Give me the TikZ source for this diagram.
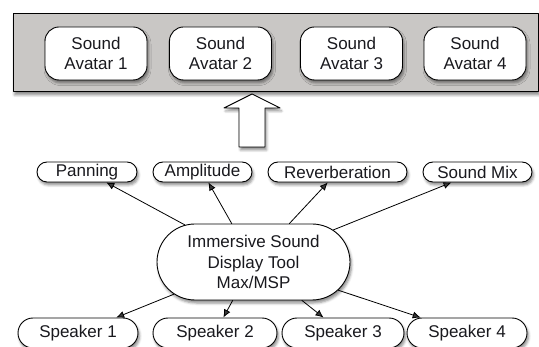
\documentclass[tikz,border=0pt]{standalone}
\usepackage{fontspec}
\setmainfont{Liberation Sans}
\usetikzlibrary{arrows.meta,shapes.misc,shadows.blur}
\definecolor{framegray}{RGB}{201,199,197}
\definecolor{inkgray}{RGB}{25,25,30}
\begin{document}
\begin{tikzpicture}[x=1pt,y=-1pt,font=\fontsize{17}{20.5}\selectfont,text=inkgray,line cap=round,line join=round,>={Latex[length=8pt,width=7pt]},
    softshadow/.style={blur shadow={shadow xshift=1.5pt,shadow yshift=-3pt,shadow blur radius=2.5pt,shadow opacity=45}},
    box/.style={draw,line width=.9pt,fill=white,inner sep=0pt,align=center,softshadow},
    avatar/.style={box,rounded corners=14pt,minimum width=102pt,minimum height=53pt},
    pill/.style={box,shape=rounded rectangle}]
	\useasboundingbox (0,0) rectangle (539,347);
	% avatar panel
	\node[draw,line width=1pt,fill=framegray,softshadow,minimum width=525pt,minimum height=78pt] (panel) at (275.5,53) {};
	\node[avatar] (av1) at (96,53.5) {Sound\\Avatar 1};
	\node[avatar] (av2) at (220.5,53.5) {Sound\\Avatar 2};
	\node[avatar] (av3) at (351.5,53.5) {Sound\\Avatar 3};
	\node[avatar] (av4) at (475,53.5) {Sound\\Avatar 4};
	% block arrow
	\draw[line width=.9pt,fill=white,softshadow] (252,94)--(280,108)--(265,108)--(265,147)--(239,147)--(239,108)--(224,108)--cycle;
	% parameters
	\node[pill,minimum width=100pt,minimum height=20pt] (pan) at (87,172) {Panning};
	\node[pill,minimum width=99pt,minimum height=20pt] (amp) at (202.5,172) {Amplitude};
	\node[pill,minimum width=139pt,minimum height=20pt] (rev) at (337.5,172) {Reverberation};
	\node[pill,minimum width=109pt,minimum height=20pt] (mix) at (477.5,172) {Sound Mix};
	% tool
	\node[pill,minimum width=193pt,minimum height=76pt] (tool) at (253.5,262) {Immersive Sound\\Display Tool\\Max/MSP};
	% speakers
	\node[pill,minimum width=120pt,minimum height=30pt] (spk1) at (78,333) {Speaker 1};
	\node[pill,minimum width=124pt,minimum height=30pt] (spk2) at (215,333) {Speaker 2};
	\node[pill,minimum width=122pt,minimum height=30pt] (spk3) at (343,333) {Speaker 3};
	\node[pill,minimum width=120pt,minimum height=30pt] (spk4) at (467,333) {Speaker 4};
	\foreach \n in {pan,amp,rev,mix,spk1,spk2,spk3,spk4}
		\draw[->,line width=.8pt] (tool) -- (\n);
\end{tikzpicture}
\end{document}
